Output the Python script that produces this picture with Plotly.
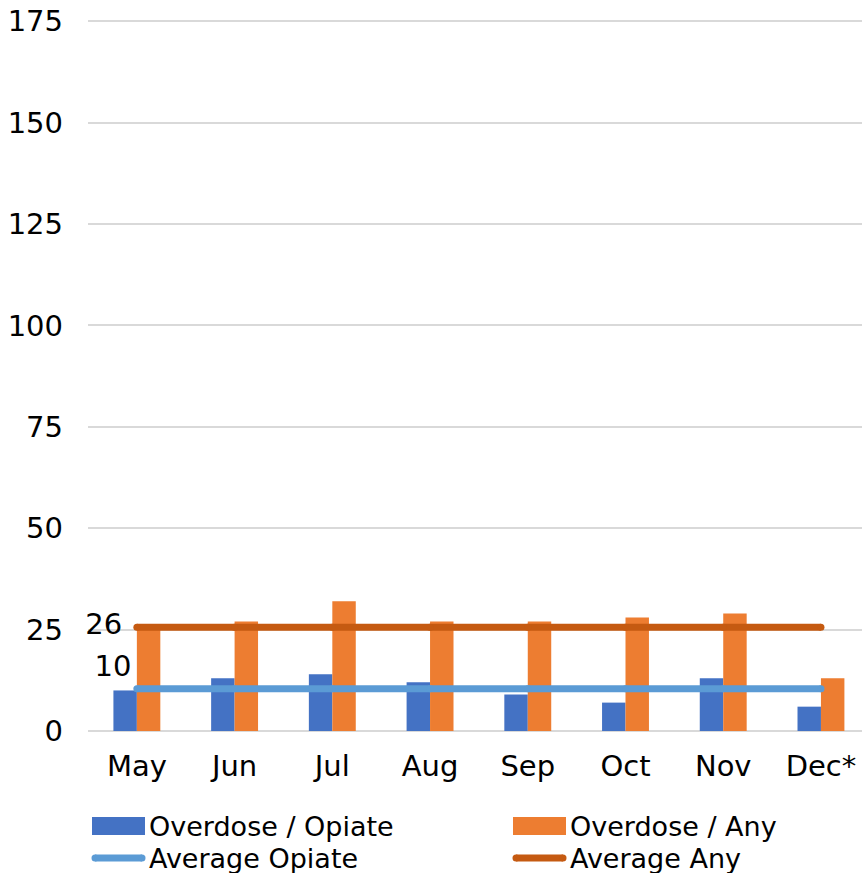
import plotly.graph_objects as go

months = ["May", "Jun", "Jul", "Aug", "Sep", "Oct", "Nov", "Dec*"]
overdose_opiate = [10, 13, 14, 12, 9, 7, 13, 6]
overdose_any = [26, 27, 32, 27, 27, 28, 29, 13]
average_opiate = [10.4] * len(months)
average_any = [25.6] * len(months)
y_ticks = [0, 25, 50, 75, 100, 125, 150, 175]

BLUE = "#4472C4"
ORANGE = "#ED7D31"
LBLUE = "#5B9BD5"
DORANGE = "#C55A11"
FONT = "DejaVu Sans"
FS = 29
LFS = 27

fig = go.Figure()
fig.add_trace(go.Bar(x=months, y=overdose_opiate, name="Overdose / Opiate",
                     marker=dict(color=BLUE, line=dict(width=0)), showlegend=False))
fig.add_trace(go.Bar(x=months, y=overdose_any, name="Overdose / Any",
                     marker=dict(color=ORANGE, line=dict(width=0)), showlegend=False))

lab_op = [str(round(average_opiate[0]))] + [""] * (len(months) - 1)
lab_any = [str(round(average_any[0])) + " "] + [""] * (len(months) - 1)

fig.add_trace(go.Scatter(x=months, y=average_opiate, name="Average Opiate",
                         mode="lines+markers+text", text=lab_op,
                         textposition="top left", cliponaxis=False,
                         textfont=dict(family=FONT, size=FS, color="#000"),
                         line=dict(color=LBLUE, width=7),
                         marker=dict(color=LBLUE, size=7), showlegend=False))
fig.add_trace(go.Scatter(x=months, y=average_any, name="Average Any",
                         mode="lines+markers+text", text=lab_any,
                         textposition="middle left", cliponaxis=False,
                         textfont=dict(family=FONT, size=FS, color="#000"),
                         line=dict(color=DORANGE, width=7),
                         marker=dict(color=DORANGE, size=7), showlegend=False))

# manual legend (pixel positions converted to paper coords)
ML, MR, MT, MB = 88, 0, 20, 142
W, H = 862, 873
PW = W - ML - MR
PH = H - MT - MB

def px(x):
    return (x - ML) / PW

def py(y):
    return (H - MB - y) / PH

shapes = []
annotations = []
legend_items = [
    ("rect", BLUE, "Overdose / Opiate", 92, 826),
    ("rect", ORANGE, "Overdose / Any", 513, 826),
    ("line", LBLUE, "Average Opiate", 92, 858),
    ("line", DORANGE, "Average Any", 513, 858),
]
for kind, col, label, x0, yc in legend_items:
    if kind == "rect":
        shapes.append(dict(type="rect", xref="paper", yref="paper",
                           x0=px(x0), x1=px(x0 + 53), y0=py(yc - 9), y1=py(yc + 9),
                           fillcolor=col, line=dict(width=0)))
    else:
        shapes.append(dict(type="line", xref="paper", yref="paper",
                           x0=px(x0 + 3), x1=px(x0 + 50), y0=py(yc), y1=py(yc),
                           line=dict(color=col, width=7)))
        for xe in (x0 + 3, x0 + 50):
            shapes.append(dict(type="circle", xref="paper", yref="paper",
                               x0=px(xe - 3.5), x1=px(xe + 3.5),
                               y0=py(yc + 3.5), y1=py(yc - 3.5),
                               fillcolor=col, line=dict(width=0)))
    annotations.append(dict(text=label, xref="paper", yref="paper",
                            x=px(x0 + 56), y=py(yc), xanchor="left", yanchor="middle",
                            showarrow=False, borderpad=0,
                            font=dict(family=FONT, size=LFS, color="#000")))

fig.update_layout(
    width=W, height=H,
    margin=dict(l=ML, r=MR, t=MT, b=MB, pad=0),
    paper_bgcolor="white", plot_bgcolor="white",
    barmode="group", bargap=0.52, bargroupgap=0,
    font=dict(family=FONT, size=FS, color="#000"),
    shapes=shapes, annotations=annotations,
    showlegend=False,
)
fig.update_xaxes(range=[-0.5, 7.42], showgrid=False, showline=False, zeroline=False,
                 ticks="", ticklabelstandoff=15,
                 tickfont=dict(family=FONT, size=FS, color="#000"))
fig.update_yaxes(range=[0, 175.3], tickvals=y_ticks, showgrid=True,
                 gridcolor="#D9D9D9", gridwidth=1.5, zeroline=True,
                 zerolinecolor="#D9D9D9", zerolinewidth=1.5, showline=False,
                 ticks="", ticklabelstandoff=24,
                 tickfont=dict(family=FONT, size=FS, color="#000"))

fig.write_html("out.html")
